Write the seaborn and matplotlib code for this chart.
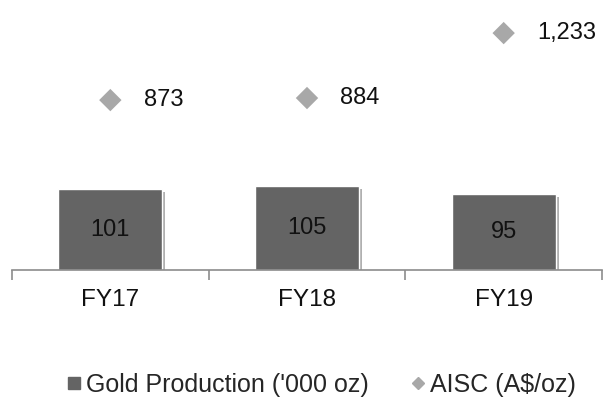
import matplotlib
matplotlib.use('Agg')
import matplotlib.pyplot as plt
import matplotlib.patheffects as pe
from matplotlib.lines import Line2D
import pandas as pd
import seaborn as sns

years = ['FY17', 'FY18', 'FY19']
gold_koz = [101, 105, 95]
aisc = [873, 884, 1233]
aisc_labels = ['873', '884', '1,233']

bar_color = '#646464'
dia_color = '#a8a8a8'
axis_color = '#8c8c8c'

sns.set_style('white')
plt.rcParams['font.family'] = ['Liberation Sans', 'DejaVu Sans']

df = pd.DataFrame({'Year': years, 'Gold': gold_koz, 'AISC': aisc})

fig = plt.figure(figsize=(6.09, 3.99), dpi=100, facecolor='white')
ax = fig.add_axes([12 / 609, 129 / 399, 590 / 609, 260 / 399])

sns.barplot(data=df, x='Year', y='Gold', color=bar_color, width=0.53,
            saturation=1, ax=ax)
for p in ax.patches:
    p.set_path_effects([pe.SimplePatchShadow(offset=(2, -2), alpha=0.35),
                        pe.Normal()])
for i, v in enumerate(gold_koz):
    ax.text(i, v / 2, str(v), ha='center', va='center', fontsize=17, color='#111111')

ax.set_ylim(0, 325)
ax.set_xlim(-0.5, 2.5)
ax.set_yticks([])
ax.set_xlabel('')
ax.set_ylabel('')
for s in ['top', 'right', 'left']:
    ax.spines[s].set_visible(False)
ax.spines['bottom'].set_color(axis_color)
ax.spines['bottom'].set_linewidth(1.2)
ax.set_xticks([0, 1, 2])
ax.set_xticks([-0.5, 0.5, 1.5, 2.5], minor=True)
ax.tick_params(axis='x', which='major', length=0, pad=14, labelsize=17.5, colors='#111111')
ax.tick_params(axis='x', which='minor', length=7, width=1.2, color=axis_color, direction='out', bottom=True)

ax2 = ax.twinx()
sns.scatterplot(data=df, x='Year', y='AISC', marker='D', s=130, color=dia_color,
                edgecolor='none', ax=ax2, legend=False, zorder=5)
for c in ax2.collections:
    c.set_path_effects([pe.SimpleLineShadow(offset=(2, -2), alpha=0.3),
                        pe.Normal()])
for i, (v, lab) in enumerate(zip(aisc, aisc_labels)):
    ax2.annotate(lab, (i, v), xytext=(24, 0), textcoords='offset points',
                 ha='left', va='center', fontsize=17, color='#111111')
ax2.set_ylim(-40, 1357)
ax2.set_yticks([])
ax2.set_ylabel('')
for s in ax2.spines.values():
    s.set_visible(False)
ax2.set_xlim(-0.5, 2.5)

handles = [
    Line2D([], [], marker='s', linestyle='none', color=bar_color, markersize=8),
    Line2D([], [], marker='D', linestyle='none', color=dia_color, markersize=6),
]
fig.legend(handles, ["Gold Production ('000 oz)", 'AISC (A$/oz)'],
           loc='center', bbox_to_anchor=(320 / 609, 1 - 385 / 399), ncol=2,
           frameon=False, fontsize=18, handletextpad=0.05, columnspacing=1.6,
           handlelength=0.8)

fig.savefig('out.png', dpi=100, facecolor='white')
